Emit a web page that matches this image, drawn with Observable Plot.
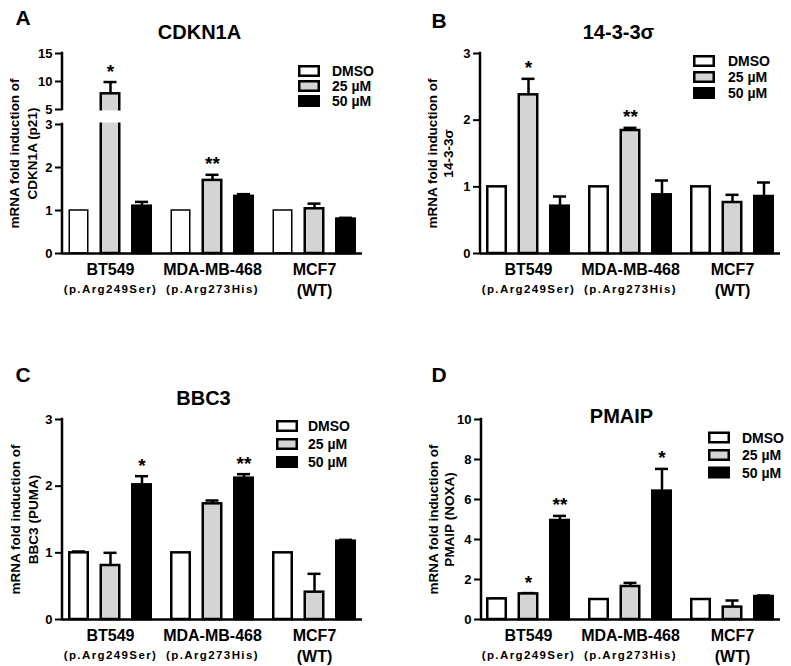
<!DOCTYPE html>
<html><head><meta charset="utf-8">
<script src="https://cdn.jsdelivr.net/npm/d3@7"></script>
<script src="https://cdn.jsdelivr.net/npm/@observablehq/plot@0.6"></script>
<style>
body{margin:0;background:#fff;}
#fig{position:relative;width:791px;height:666px;overflow:hidden;background:#fff;}
#fig svg{position:absolute;}
</style></head><body><div id="fig"></div>
<script>
// ---- data ----
const cells = ["BT549", "MDA-MB-468", "MCF7"];
const mutations = ["(p.Arg249Ser)", "(p.Arg273His)", "(WT)"];
const treatments = ["DMSO", "25 µM", "50 µM"];
const fills = ["#ffffff", "#d4d4d4", "#000000"];

// rows = cell lines, columns = treatments
const cdkn1aMean  = [[1.00, 7.80, 1.10], [1.00, 1.70, 1.33], [1.00, 1.04, 0.80]];
const cdkn1aErr   = [[0.00, 2.10, 0.10], [0.00, 0.13, 0.05], [0.00, 0.12, 0.03]];
const cdkn1aStars = [["", "*", ""], ["", "**", ""], ["", "", ""]];
const cdkn1aTicks = [0, 1, 2, 3, 5, 10, 15];

const sfnMean  = [[1.00, 2.38, 0.71], [1.00, 1.845, 0.88], [1.00, 0.765, 0.855]];
const sfnErr   = [[0.00, 0.24, 0.145], [0.00, 0.04, 0.215], [0.00, 0.115, 0.21]];
const sfnStars = [["", "*", ""], ["", "**", ""], ["", "", ""]];
const sfnTicks = [0, 1, 2, 3];

const bbc3Mean  = [[1.00, 0.81, 2.02], [1.00, 1.735, 2.12], [1.00, 0.41, 1.175]];
const bbc3Err   = [[0.02, 0.19, 0.13], [0.00, 0.05, 0.06], [0.00, 0.275, 0.02]];
const bbc3Stars = [["", "", "*"], ["", "", "**"], ["", "", ""]];
const bbc3Ticks = [0, 1, 2, 3];

const pmaipMean  = [[1.03, 1.28, 4.95], [1.00, 1.65, 6.42], [1.00, 0.62, 1.15]];
const pmaipErr   = [[0.02, 0.04, 0.23], [0.00, 0.18, 1.11], [0.00, 0.33, 0.05]];
const pmaipStars = [["", "*", "**"], ["", "", "*"], ["", "", ""]];
const pmaipTicks = [0, 2, 4, 6, 8, 10];

const FONT = '"Liberation Sans", Arial, Helvetica, sans-serif';

// broken y axis for CDKN1A: 0–3 full scale, 5–15 compressed
const brk = v => v <= 3 ? v : v < 5 ? 3 + (v - 3) * 0.1744 : 3.349 + (v - 5) * 0.1302;

function rows(mean, err, stars) {
  return cells.flatMap((c, i) => treatments.map((t, j) => ({
    cell: c, treatment: t, mean: mean[i][j], err: err[i][j], star: stars[i][j]
  })));
}
const groupData = cells.map((c, i) => ({cell: c, mutation: mutations[i]}));

function panel(cfg) {
  const W = 396, H = 336;
  const data = rows(cfg.mean, cfg.err, cfg.stars);
  const ml = cfg.left, mr = W - cfg.right, mt = cfg.top, mb = H - cfg.bottom;
  const insL = [1.25, 32.75, 64.25], insR = [64.25, 32.75, 1.25], off = [-31.5, 0, 31.5];
  const tf = cfg.transform || (v => v);
  const marks = [];
  treatments.forEach((t, j) => {
    const sub = data.filter(d => d.treatment === t);
    const withErr = sub.filter(d => d.err > 0);
    marks.push(Plot.ruleX(withErr, {x: "cell", y1: "mean", y2: d => d.mean + d.err, dx: off[j], stroke: "black", strokeWidth: 2.5}));
    marks.push(Plot.tickY(withErr, {x: "cell", y: d => d.mean + d.err, dx: off[j], insetLeft: 35.5, insetRight: 35.5, stroke: "black", strokeWidth: 2.5}));
    marks.push(Plot.barY(sub, {x: "cell", y: "mean", fill: fills[j], stroke: "black",
      strokeWidth: j === 0 ? cfg.dmsoStroke : 2.5, insetLeft: insL[j], insetRight: insR[j]}));
    marks.push(Plot.text(sub.filter(d => d.star), {x: "cell", y: d => d.mean + d.err, text: "star", dx: off[j], dy: -18,
      lineAnchor: "top", fontSize: 19, fontWeight: "bold", fill: "black"}));
  });
  if (cfg.gap) {
    marks.push(Plot.rect([{lo: cfg.gap[0], hi: cfg.gap[1]}], {y1: "lo", y2: "hi", fill: "white", insetTop: 1.5, insetBottom: 1.5, insetLeft: -4}));
  }
  marks.push(Plot.ruleY([0], {stroke: "black", strokeWidth: 2.5}));
  // axis ticks: positions given in the (possibly broken) scale space, labelled with the original values
  const tickPos = cfg.ticks.map(tf);
  const tickLabel = new Map(cfg.ticks.map(t => [tf(t), String(t)]));
  marks.push(Plot.axisY({ticks: tickPos, tickSize: 7, tickPadding: 3, strokeWidth: 2, fontSize: 13, fontWeight: "bold", label: null,
    tickFormat: d => tickLabel.get(d) ?? String(d)}));
  // group labels
  marks.push(Plot.text(groupData, {x: "cell", text: "cell", frameAnchor: "bottom", lineAnchor: "top", dy: 10, fontSize: 16, fontWeight: "bold"}));
  marks.push(Plot.text(groupData, {x: "cell", text: "mutation", frameAnchor: "bottom", lineAnchor: "top", dy: 31,
    fontSize: d => d.mutation === "(WT)" ? 16 : 11.5, fontWeight: "bold"}));
  // title
  marks.push(Plot.text([cfg.title], {text: d => d, frameAnchor: "top", lineAnchor: "top", dx: cfg.titleX - (ml + W - mr) / 2, dy: cfg.titleTop - mt, fontSize: 20, fontWeight: "bold"}));
  // panel letter
  marks.push(Plot.text([cfg.letter], {text: d => d, frameAnchor: "top-left", textAnchor: "start", lineAnchor: "top", dx: cfg.letterX - ml, dy: cfg.letterTop - mt, fontSize: 21, fontWeight: "bold"}));
  // y label
  marks.push(Plot.text([cfg.ylabel], {text: d => d, frameAnchor: "left", rotate: -90, textAnchor: "middle", lineAnchor: "middle",
    dx: cfg.ylabelX - ml, fontSize: 13.5, fontWeight: "bold", lineHeight: cfg.ylabelLH}));

  const yOpts = {domain: cfg.domain, label: null, axis: null};
  if (cfg.transform) yOpts.transform = cfg.transform;
  const svg = Plot.plot({
    width: W, height: H,
    marginLeft: ml, marginRight: mr, marginTop: mt, marginBottom: mb,
    style: {fontFamily: FONT, fontWeight: "bold", fontSize: "13px", color: "black", background: "white", overflow: "visible"},
    x: {type: "band", domain: cells, paddingInner: 0.175, paddingOuter: 0.044, axis: null},
    y: yOpts,
    marks
  });
  // axis line(s) and legend
  const ys = svg.scale("y");
  const g = d3.select(svg).append("g");
  cfg.segments.forEach(([a, b]) => {
    g.append("line").attr("x1", ml).attr("x2", ml).attr("y1", ys.apply(tf(a))).attr("y2", ys.apply(tf(b)))
      .attr("stroke", "black").attr("stroke-width", 2.5).attr("stroke-linecap", "square");
  });
  const lg = d3.select(svg).append("g").attr("font-family", FONT).attr("font-weight", "bold").attr("font-size", 14)
    .attr("text-anchor", "start");
  treatments.forEach((t, j) => {
    const cy = cfg.legY + j * cfg.legStep;
    lg.append("rect").attr("x", cfg.legX + 1.25).attr("y", cy - 4.75).attr("width", 19.5).attr("height", 9.5)
      .attr("fill", fills[j]).attr("stroke", "black").attr("stroke-width", 2.5);
    lg.append("text").attr("x", cfg.legX + cfg.legText).attr("y", cy).attr("dy", "0.36em").attr("fill", "black").text(t);
  });
  d3.select(svg).selectAll("text").filter(function () { return /^\(p\./.test(this.textContent); })
    .attr("letter-spacing", "1.4px");
  svg.style.left = cfg.x + "px";
  svg.style.top = cfg.y + "px";
  document.getElementById("fig").appendChild(svg);
}

panel({x: 0, y: 0, letter: "A", title: "CDKN1A", ylabel: "mRNA fold induction of\nCDKN1A (p21)",
  mean: cdkn1aMean, err: cdkn1aErr, stars: cdkn1aStars, ticks: cdkn1aTicks,
  transform: brk, domain: [0, brk(15)], gap: [3, 5], segments: [[0, 3], [5, 15]],
  left: 62, right: 362, top: 53, bottom: 253, dmsoStroke: 1.5,
  titleX: 199, titleTop: 24, letterX: 15, letterTop: 10, ylabelX: 22, ylabelLH: 1.33,
  legX: 298, legY: 71, legStep: 15, legText: 34});

panel({x: 395, y: 0, letter: "B", title: "14-3-3σ", ylabel: "mRNA fold induction of\n14-3-3σ",
  mean: sfnMean, err: sfnErr, stars: sfnStars, ticks: sfnTicks,
  domain: [0, 3], segments: [[0, 3]],
  left: 85, right: 385, top: 53, bottom: 253, dmsoStroke: 2.5,
  titleX: 223, titleTop: 24, letterX: 36, letterTop: 13, ylabelX: 44, ylabelLH: 1.22,
  legX: 298, legY: 61, legStep: 16, legText: 35});

panel({x: 0, y: 330, letter: "C", title: "BBC3", ylabel: "mRNA fold induction of\nBBC3 (PUMA)",
  mean: bbc3Mean, err: bbc3Err, stars: bbc3Stars, ticks: bbc3Ticks,
  domain: [0, 3], segments: [[0, 3]],
  left: 62, right: 362, top: 89, bottom: 289, dmsoStroke: 2.5,
  titleX: 203, titleTop: 60, letterX: 15, letterTop: 37, ylabelX: 23, ylabelLH: 1.33,
  legX: 276, legY: 96, legStep: 18, legText: 32});

panel({x: 395, y: 330, letter: "D", title: "PMAIP", ylabel: "mRNA fold induction of\nPMAIP (NOXA)",
  mean: pmaipMean, err: pmaipErr, stars: pmaipStars, ticks: pmaipTicks,
  domain: [0, 10], segments: [[0, 10]],
  left: 86, right: 385, top: 89, bottom: 289, dmsoStroke: 2.5,
  titleX: 226, titleTop: 78, letterX: 36, letterTop: 37, ylabelX: 45, ylabelLH: 1.2,
  legX: 313, legY: 107.5, legStep: 17.5, legText: 34});
</script>
</body></html>
